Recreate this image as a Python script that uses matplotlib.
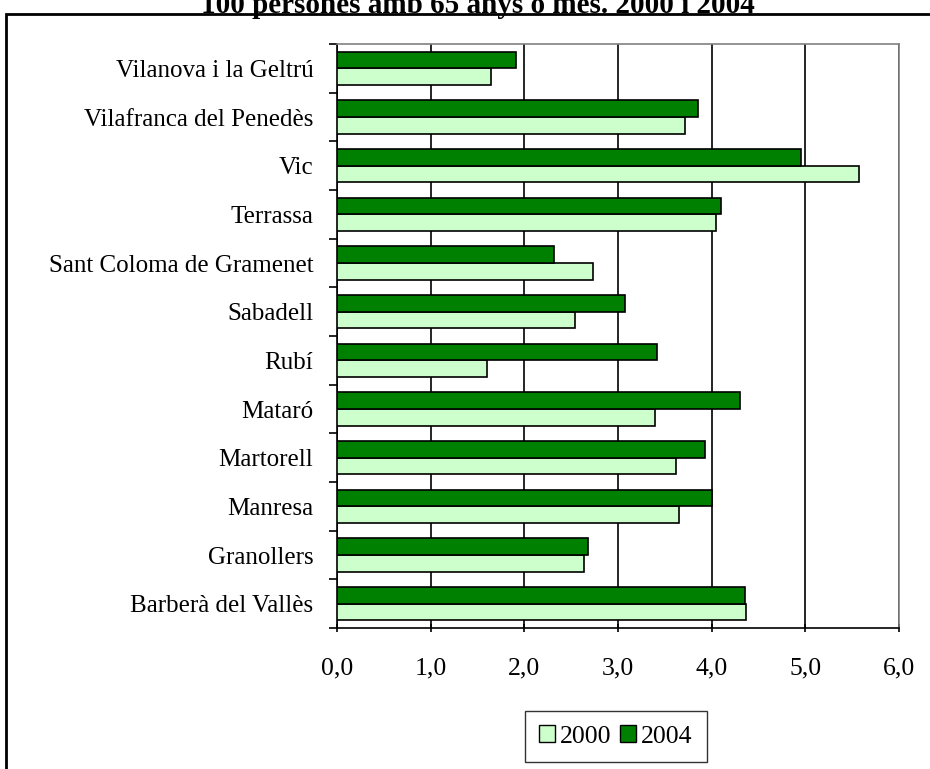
import numpy as np
import matplotlib.pyplot as plt
from matplotlib.patches import Patch, Rectangle

plt.rcParams['font.family'] = ['Liberation Serif', 'DejaVu Serif']

towns = ['Barberà del Vallès', 'Granollers', 'Manresa', 'Martorell', 'Mataró',
         'Rubí', 'Sabadell', 'Sant Coloma de Gramenet', 'Terrassa', 'Vic',
         'Vilafranca del Penedès', 'Vilanova i la Geltrú']
v2000 = [4.37, 2.64, 3.65, 3.62, 3.39, 1.60, 2.54, 2.73, 4.05, 5.57, 3.71, 1.64]
v2004 = [4.36, 2.68, 4.00, 3.93, 4.30, 3.42, 3.07, 2.32, 4.10, 4.95, 3.85, 1.91]
xticks = [0, 1, 2, 3, 4, 5, 6]
title = '100 persones amb 65 anys o més. 2000 i 2004'

light = '#CCFFCC'
dark = '#008000'

W, H = 930, 769
fig = plt.figure(figsize=(W / 100, H / 100), dpi=100)
ax = fig.add_axes([337 / W, 1 - 628 / H, (899 - 337) / W, (628 - 44) / H])

y = np.arange(len(towns))
h = 0.34
ax.barh(y - h / 2, v2000, height=h, color=light, edgecolor='black', linewidth=1.2, zorder=3)
ax.barh(y + h / 2, v2004, height=h, color=dark, edgecolor='black', linewidth=1.2, zorder=3)

ax.set_xlim(0, 6)
ax.set_ylim(-0.5, len(towns) - 0.5)
ax.set_xticks(xticks)
ax.set_xticklabels(['{:.1f}'.format(t).replace('.', ',') for t in xticks], fontsize=18.5)
ax.set_yticks(y)
ax.set_yticklabels(towns, fontsize=18)
ax.set_yticks(np.arange(-0.5, len(towns), 1), minor=True)
ax.tick_params(axis='y', which='major', length=0, pad=17)
ax.tick_params(axis='y', which='minor', length=6, width=1.2, direction='out')
ax.tick_params(axis='x', length=6, width=1.2, direction='inout', pad=18)
ax.xaxis.grid(True, color='black', linewidth=1.2, zorder=0)
ax.set_axisbelow(True)
for s in ['left', 'bottom']:
    ax.spines[s].set_linewidth(1.2)
for s in ['top', 'right']:
    ax.spines[s].set_color('#808080')
    ax.spines[s].set_linewidth(1.2)

# title is partly cut by the top edge, as in the original
fig.text(478 / W, 1 - 13 / H, title, ha='center', va='baseline',
         fontsize=21, fontweight='bold')

fig.patches.append(Rectangle((6 / W, -0.1), 1.2, 1 - 14 / H + 0.1, transform=fig.transFigure,
                             fill=False, edgecolor='black', linewidth=2))

handles = [Patch(facecolor=light, edgecolor='black', label='2000'),
           Patch(facecolor=dark, edgecolor='black', label='2004')]
fig.legend(handles=handles, loc='center', bbox_to_anchor=(616 / W, 1 - 736.5 / H), ncol=2,
           fontsize=18.5, frameon=True, fancybox=False, edgecolor='black',
           handlelength=0.6, handleheight=0.6, handletextpad=0.2, columnspacing=0.35,
           borderpad=0.55, borderaxespad=0)

fig.savefig('out.png', dpi=100)
